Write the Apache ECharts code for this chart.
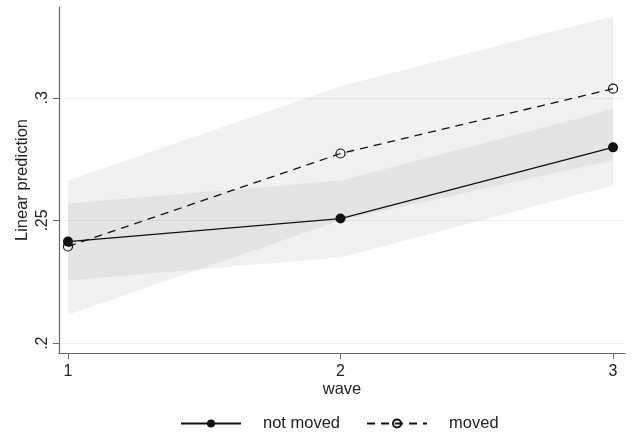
<!DOCTYPE html>
<html>
<head>
<meta charset="utf-8">
<script src="https://cdn.jsdelivr.net/npm/echarts@6/dist/echarts.min.js"></script>
<style>
  html, body { margin: 0; padding: 0; background: #fff; }
  #chart { width: 637px; height: 437px; }
</style>
</head>
<body>
<div id="chart"></div>
<script>
// data
var waves = [1, 2, 3];
var notMoved = [0.2414, 0.2508, 0.2798];
var moved = [0.2394, 0.2773, 0.3037];
var notMovedLo = [0.2255, 0.2349, 0.2643];
var notMovedHi = [0.2569, 0.2663, 0.2953];
var movedLo = [0.2116, 0.2500, 0.2745];
var movedHi = [0.2663, 0.3047, 0.3333];
var yTicks = [0.2, 0.25, 0.3];

var font = 'Liberation Sans, Arial, sans-serif';

function rows(xs, a, b) {
  return xs.map(function (x, i) { return [x, a[i], b[i]]; });
}

function pairs(xs, a) {
  return xs.map(function (x, i) { return [x, a[i]]; });
}

// one polygon for the whole band, drawn on the first item
function band(name, lo, hi) {
  var d = rows(waves, lo, hi);
  return {
    name: name,
    type: 'custom',
    silent: true,
    z: 1,
    data: d,
    encode: { x: 0, y: [1, 2] },
    renderItem: function (params, api) {
      if (params.dataIndex !== 0) return null;
      var top = [], bottom = [];
      for (var i = 0; i < d.length; i++) {
        top.push(api.coord([d[i][0], d[i][2]]));
        bottom.unshift(api.coord([d[i][0], d[i][1]]));
      }
      return {
        type: 'polygon',
        shape: { points: top.concat(bottom) },
        style: { fill: 'rgba(0,0,0,0.055)', stroke: 'none' }
      };
    }
  };
}

var myChart = echarts.init(document.getElementById('chart'));
var option = {
  animation: false,
  grid: { left: 59, right: 12, top: 7, bottom: 84 },
  legend: {
    data: ['not moved', 'moved'],
    bottom: 0,
    left: 175,
    itemWidth: 60,
    itemHeight: 10,
    itemGap: 26,
    textStyle: { fontFamily: font, fontSize: 16.5, color: '#222', padding: [0, 0, 0, 17] }
  },
  xAxis: {
    type: 'value',
    min: 0.967,
    max: 3.044,
    name: 'wave',
    nameLocation: 'middle',
    nameGap: 28,
    nameMoveOverlap: false,
    nameTextStyle: { fontFamily: font, fontSize: 16.5, color: '#222' },
    axisLine: { lineStyle: { color: '#666', width: 1.2 } },
    axisTick: { show: true, length: 6, customValues: waves, lineStyle: { color: '#666' } },
    axisLabel: { customValues: waves, fontFamily: font, fontSize: 16, color: '#222', margin: 11 },
    splitLine: { show: false }
  },
  yAxis: {
    type: 'value',
    min: 0.196,
    max: 0.337,
    name: 'Linear prediction',
    nameLocation: 'middle',
    nameRotate: 90,
    nameGap: 28,
    nameMoveOverlap: false,
    nameTextStyle: { fontFamily: font, fontSize: 16.5, color: '#222' },
    axisLine: { show: true, lineStyle: { color: '#666', width: 1.2 } },
    axisTick: { show: true, length: 6, customValues: yTicks, lineStyle: { color: '#666' } },
    axisLabel: {
      customValues: yTicks,
      rotate: 90,
      fontFamily: font, fontSize: 16, color: '#222', margin: 8,
      formatter: function (v) { return String(v).replace(/^0/, ''); }
    },
    splitLine: { show: false }
  },
  series: [
    band('moved CI', movedLo, movedHi),
    band('not moved CI', notMovedLo, notMovedHi),
    {
      name: 'not moved',
      type: 'line',
      z: 3,
      data: pairs(waves, notMoved),
      symbol: 'circle',
      symbolSize: 10,
      itemStyle: { color: '#111' },
      lineStyle: { color: '#111', width: 1.3 },
      markLine: {
        silent: true,
        symbol: 'none',
        z: 0,
        label: { show: false },
        lineStyle: { color: '#efefef', width: 1, type: 'solid' },
        data: yTicks.map(function (v) { return { yAxis: v }; })
      }
    },
    {
      name: 'moved',
      type: 'line',
      z: 3,
      data: pairs(waves, moved),
      symbol: 'circle',
      symbolSize: 9,
      itemStyle: { color: 'rgba(0,0,0,0)', borderColor: '#111', borderWidth: 1.2 },
      lineStyle: { color: '#111', width: 1.3, type: [8, 6] }
    }
  ]
};
myChart.setOption(option);
</script>
</body>
</html>
